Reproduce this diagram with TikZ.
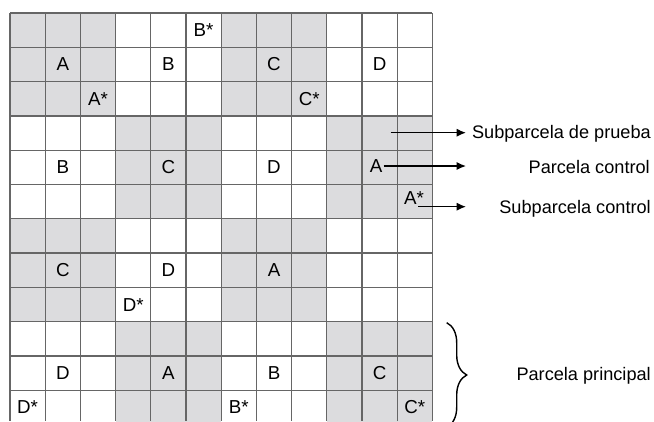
\documentclass[tikz,border=0pt]{standalone}
\usepackage{fontspec}
\setmainfont{Liberation Sans}
\usetikzlibrary{positioning,calc,arrows.meta,decorations.pathreplacing}
\usepackage{xcolor}
\definecolor{grisparcela}{HTML}{DCDCDE}
\definecolor{lineagris}{HTML}{666666}
\tikzset{
  rejilla/.style={draw=lineagris,line width=1.1pt},
  letrasty/.style={inner sep=1pt,font=\fontsize{16}{19}\selectfont},
  textosty/.style={inner sep=0pt,font=\fontsize{15.5}{18}\selectfont},
  flecha/.style={line width=1.2pt,-{Latex[length=8pt,width=7pt]}},
  llave/.style={line width=1.2pt,decorate,decoration={brace,amplitude=0.6cm}}
}
% bloque gris de 3x3 celdas: #1 columna de bloque, #2 fila de bloque
\newcommand{\bloquegris}[2]{%
  \fill[grisparcela] ({10+#1*105.6},{13+#2*102.9}) rectangle ++(105.6,102.9);
}
% letra en una celda: #1 nombre, #2 columna, #3 fila, #4 texto
\newcommand{\letra}[4]{%
  \node[letrasty] (#1) at ({10+(#2+0.5)*35.2},{13+(#3+0.5)*34.3}) {#4};
}

\begin{document}
\begin{tikzpicture}[x=0.03cm,y=-0.03cm]
  \useasboundingbox (0,0) rectangle (654,421);
  \clip (0,0) rectangle (654,421);
  \fill[white] (0,0) rectangle (654,421);
  \bloquegris{0}{0}\bloquegris{2}{0}
  \bloquegris{1}{1}\bloquegris{3}{1}
  \bloquegris{0}{2}\bloquegris{2}{2}
  \bloquegris{1}{3}\bloquegris{3}{3}
  \foreach \c in {0,...,12}
    \draw[rejilla] ({10+\c*35.2},13) -- ({10+\c*35.2},421);
  \foreach \r in {0,...,11}
    \draw[rejilla] (10,{13+\r*34.3}) -- (432.4,{13+\r*34.3});
  % parcelas principales
  \letra{a1}{1}{1}{A}   \letra{a1s}{2}{2}{A*}
  \letra{b1}{4}{1}{B}   \letra{b1s}{5}{0}{B*}
  \letra{c1}{7}{1}{C}   \letra{c1s}{8}{2}{C*}
  \letra{d1}{10}{1}{D}
  \letra{b2}{1}{4}{B}
  \letra{c2}{4}{4}{C}
  \letra{d2}{7}{4}{D}
  \node[letrasty] (a2) at (376,166) {A};
  \node[letrasty] (a2s) at (414,198) {A*};
  \letra{c3}{1}{7}{C}
  \letra{d3}{4}{7}{D}   \letra{d3s}{3}{8}{D*}
  \letra{a3}{7}{7}{A}
  \letra{d4}{1}{10}{D}  \letra{d4s}{0}{11}{D*}
  \letra{a4}{4}{10}{A}
  \letra{b4}{7}{10}{B}  \letra{b4s}{6}{11}{B*}
  \letra{c4}{10}{10}{C} \letra{c4s}{11}{11}{C*}
  % leyenda
  \node[textosty,anchor=east] (prueba) at (651,134) {Subparcela de prueba};
  \node[textosty,anchor=east] (control) at (650,167) {Parcela control};
  \node[textosty,anchor=east] (subcontrol) at (651,209) {Subparcela control};
  \node[textosty,anchor=east] (principal) at (651,376) {Parcela principal};
  \coordinate (iniprueba) at (390.7,132.7);
  \coordinate (fincontrol) at (466,167);
  \coordinate (inisub) at (418,206.7);
  \coordinate (finsub) at (466,206.7);
  \draw[flecha,shorten >=5pt] (iniprueba) -- (iniprueba -| prueba.west);
  \draw[flecha] (a2.east) -- (a2.east -| fincontrol);
  \draw[flecha] (inisub) -- (finsub);
  \coordinate (llavesup) at (446.7,322.7);
  \coordinate (llaveinf) at (446.7,427.3);
  \draw[llave] (llavesup) -- (llaveinf);
\end{tikzpicture}
\end{document}
